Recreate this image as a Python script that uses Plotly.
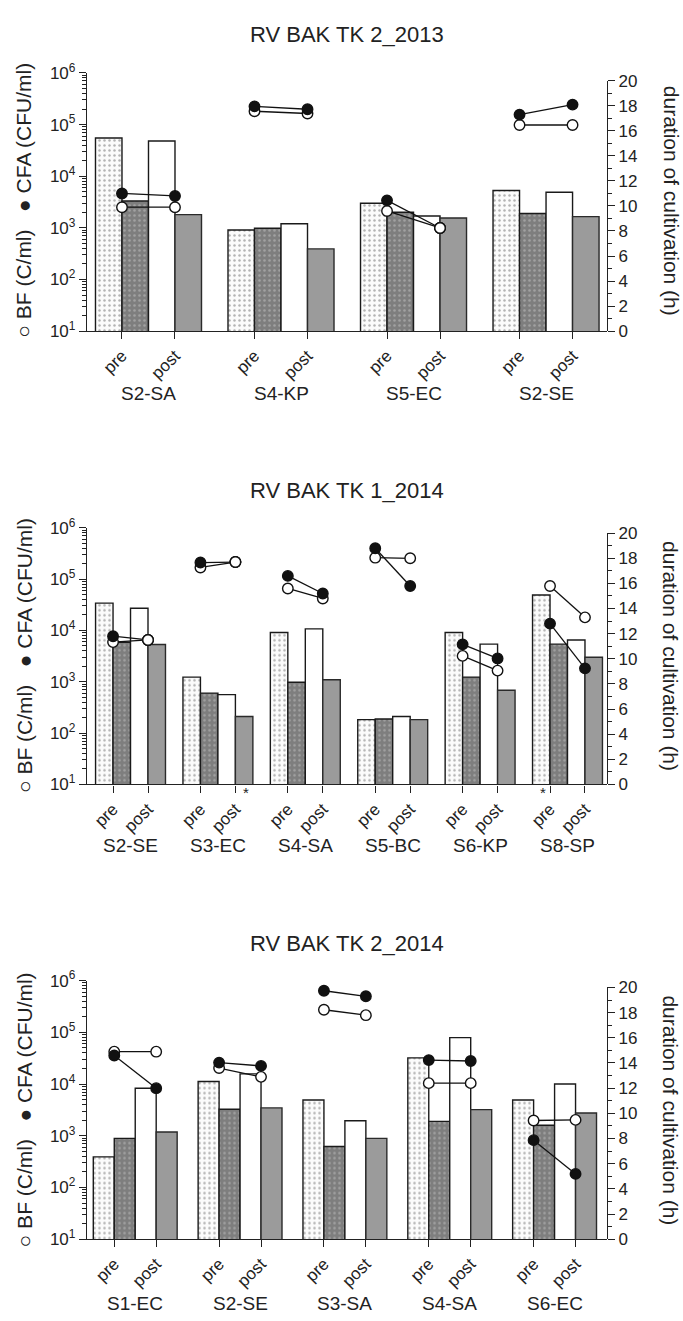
import plotly.graph_objects as go

# ---------------- data ----------------
titles = ["RV BAK TK 2_2013", "RV BAK TK 1_2014", "RV BAK TK 2_2014"]

groups_1 = ["S2-SA", "S4-KP", "S5-EC", "S2-SE"]
pre_bf_1 = [55000, 910, 3000, 5300]
pre_cfa_1 = [3300, 980, 2000, 1900]
post_bf_1 = [48000, 1200, 1700, 4900]
post_cfa_1 = [1800, 390, 1550, 1650]
dur_bf_pre_1 = [9.9, 17.57, 9.6, 16.47]
dur_bf_post_1 = [9.9, 17.39, 8.24, 16.47]
dur_cfa_pre_1 = [11.0, 17.96, 10.45, 17.3]
dur_cfa_post_1 = [10.8, 17.73, 8.24, 18.1]

groups_2 = ["S2-SE", "S3-EC", "S4-SA", "S5-BC", "S6-KP", "S8-SP"]
pre_bf_2 = [34000, 1230, 9100, 182, 9100, 49000]
pre_cfa_2 = [5900, 600, 980, 187, 1230, 5400]
post_bf_2 = [27000, 560, 10700, 210, 5400, 6500]
post_cfa_2 = [5300, 210, 1090, 182, 680, 3000]
dur_bf_pre_2 = [11.33, 17.27, 15.6, 18.05, 10.23, 15.8]
dur_bf_post_2 = [11.5, 17.7, 14.8, 18.0, 9.06, 13.3]
dur_cfa_pre_2 = [11.8, 17.66, 16.6, 18.8, 11.15, 12.8]
dur_cfa_post_2 = [11.5, 17.7, 15.2, 15.8, 10.03, 9.24]
asterisks_2 = [(1, "post"), (5, "pre")]

groups_3 = ["S1-EC", "S2-SE", "S3-SA", "S4-SA", "S6-EC"]
pre_bf_3 = [390, 11200, 4900, 32000, 4900]
pre_cfa_3 = [890, 3260, 620, 1900, 1600]
post_bf_3 = [8300, 15700, 1950, 79000, 10000]
post_cfa_3 = [1180, 3460, 890, 3200, 2750]
dur_bf_pre_3 = [14.9, 13.6, 18.23, 12.4, 9.43]
dur_bf_post_3 = [14.9, 12.9, 17.8, 12.4, 9.48]
dur_cfa_pre_3 = [14.6, 14.03, 19.74, 14.23, 7.87]
dur_cfa_post_3 = [12.0, 13.77, 19.3, 14.16, 5.19]

tick_labels = ["pre", "post"]
left_title = "○ BF (C/ml)   ● CFA (CFU/ml)"
right_title = "duration of cultivation (h)"
log_tickvals = [10, 100, 1000, 10000, 100000, 1000000]
log_ticktext = ["10<sup>1</sup>", "10<sup>2</sup>", "10<sup>3</sup>",
                "10<sup>4</sup>", "10<sup>5</sup>", "10<sup>6</sup>"]
dur_tickvals = list(range(0, 21, 2))

panels = [
    dict(groups=groups_1, bars=[pre_bf_1, pre_cfa_1, post_bf_1, post_cfa_1],
         bf=(dur_bf_pre_1, dur_bf_post_1), cfa=(dur_cfa_pre_1, dur_cfa_post_1), ast=[]),
    dict(groups=groups_2, bars=[pre_bf_2, pre_cfa_2, post_bf_2, post_cfa_2],
         bf=(dur_bf_pre_2, dur_bf_post_2), cfa=(dur_cfa_pre_2, dur_cfa_post_2), ast=asterisks_2),
    dict(groups=groups_3, bars=[pre_bf_3, pre_cfa_3, post_bf_3, post_cfa_3],
         bf=(dur_bf_pre_3, dur_bf_post_3), cfa=(dur_cfa_pre_3, dur_cfa_post_3), ast=[]),
]

# ---------------- layout geometry (pixels) ----------------
W, H = 683, 1321
FONT = "Liberation Sans, Arial, sans-serif"
PL, PR = 87, 607
geom = [
    dict(ytop=62, ybot=324.5, y2top=70, xr=[-0.82, 18.8], title_y=23, group_y=388, lab_y=192, ast_y=333),
    dict(ytop=524.5, ybot=785.5, y2top=530, xr=[-0.99, 28.76], title_y=487, group_y=848, lab_y=655, ast_y=794),
    dict(ytop=985, ybot=1248, y2top=992, xr=[-0.8, 24.0], title_y=947, group_y=1313, lab_y=1117, ast_y=1256),
]
BAR_BASE = 1  # below the visible axis minimum (10^1), clipped at the axis


def py(px):
    return 1 - px / H


def pxx(px):
    return px / W


bar_styles = [
    dict(color="#fbfbfb", line=dict(color="#1a1a1a", width=1.4),
         pattern=dict(shape=".", fgcolor="#6a6a6a", bgcolor="#fbfbfb", size=5, solidity=0.2)),
    dict(color="#828282", line=dict(color="#1a1a1a", width=1.4),
         pattern=dict(shape=".", fgcolor="#c4c4c4", bgcolor="#7e7e7e", size=5, solidity=0.2)),
    dict(color="#ffffff", line=dict(color="#1a1a1a", width=1.4)),
    dict(color="#9b9b9b", line=dict(color="#2a2a2a", width=1.4)),
]

fig = go.Figure()
layout = dict(width=W, height=H, margin=dict(l=0, r=0, t=0, b=0),
              plot_bgcolor="rgba(0,0,0,0)", paper_bgcolor="white", barmode="overlay",
              showlegend=False, font=dict(family=FONT, color="#222"))
annotations = []


def ann(**kw):
    base = dict(showarrow=False, xanchor="center", yanchor="middle")
    base.update(kw)
    annotations.append(base)


for i, (p, g) in enumerate(zip(panels, geom)):
    n = len(p["groups"])
    xa, xb = 2 * i + 1, 2 * i + 2
    xref_a = "x" if xa == 1 else f"x{xa}"
    yref_a = "y" if xa == 1 else f"y{xa}"
    xref_b, yref_b = f"x{xb}", f"y{xb}"

    for k in range(4):
        fig.add_trace(go.Bar(
            x=[gi * 5 + k for gi in range(n)], y=p["bars"][k], base=BAR_BASE, width=1.0,
            marker=bar_styles[k], xaxis=xref_a, yaxis=yref_a, hoverinfo="skip"))

    def seg(pre, post):
        xs, ys = [], []
        for gi in range(n):
            xs += [gi * 5 + 0.5, gi * 5 + 2.5, None]
            ys += [pre[gi], post[gi], None]
        return xs, ys

    bx, by = seg(*p["bf"])
    cx, cy = seg(*p["cfa"])
    fig.add_trace(go.Scatter(x=bx, y=by, mode="lines+markers", xaxis=xref_b, yaxis=yref_b,
                             line=dict(color="#111", width=1.3), cliponaxis=False,
                             marker=dict(symbol="circle", size=10.5, color="white",
                                         line=dict(color="#111", width=1.4))))
    fig.add_trace(go.Scatter(x=cx, y=cy, mode="lines+markers", xaxis=xref_b, yaxis=yref_b,
                             line=dict(color="#111", width=1.3), cliponaxis=False,
                             marker=dict(symbol="circle", size=10.5, color="#111",
                                         line=dict(color="#111", width=1.4))))
    same = [gi for gi in range(n) if abs(p["bf"][1][gi] - p["cfa"][1][gi]) < 0.15]
    if same:
        fig.add_trace(go.Scatter(x=[gi * 5 + 2.5 for gi in same], y=[p["bf"][1][gi] for gi in same],
                                 mode="markers", xaxis=xref_b, yaxis=yref_b, cliponaxis=False,
                                 marker=dict(symbol="circle", size=10.5, color="white",
                                             line=dict(color="#111", width=1.4))))

    tickvals, ticktext = [], []
    for gi in range(n):
        tickvals += [gi * 5 + 0.5, gi * 5 + 2.5]
        ticktext += tick_labels

    dom_x = [pxx(PL), pxx(PR)]
    ax_common = dict(showgrid=False, zeroline=False, showline=True, linecolor="#222",
                     linewidth=1.3, ticks="outside", tickcolor="#222", tickwidth=1.2)
    layout["xaxis" if xa == 1 else f"xaxis{xa}"] = dict(
        domain=dom_x, range=g["xr"], anchor=yref_a, tickmode="array",
        tickvals=tickvals, ticktext=ticktext, tickangle=-45, ticklen=7,
        tickfont=dict(size=17, family=FONT, color="#222"), **ax_common)
    layout["yaxis" if xa == 1 else f"yaxis{xa}"] = dict(
        domain=[py(g["ybot"]), py(g["ytop"])], type="log", range=[1, 6], anchor=xref_a,
        tickmode="array", tickvals=log_tickvals, ticktext=log_ticktext, ticklen=7,
        tickfont=dict(size=17, family=FONT, color="#222"),
        minor=dict(tickmode="array",
                   tickvals=[m * 10 ** e for e in range(1, 6) for m in range(2, 10)],
                   ticks="outside", ticklen=4, tickcolor="#222", tickwidth=1),
        **ax_common)
    layout[f"xaxis{xb}"] = dict(domain=dom_x, range=g["xr"], anchor=yref_b, visible=False)
    layout[f"yaxis{xb}"] = dict(
        domain=[py(g["ybot"]), py(g["y2top"])], range=[0, 20], anchor=xref_b, side="right",
        tickmode="array", tickvals=dur_tickvals, ticklen=7,
        tickfont=dict(size=17, family=FONT, color="#222"),
        minor=dict(tickmode="array", tickvals=list(range(1, 20, 2)),
                   ticks="outside", ticklen=4, tickcolor="#222", tickwidth=1),
        **ax_common)

    ann(text=titles[i], x=pxx((PL + PR) / 2), y=py(g["title_y"]), xref="paper", yref="paper",
        font=dict(size=22, family=FONT, color="#222"))
    for gi, name in enumerate(p["groups"]):
        ann(text=name, x=gi * 5 + 1.5, y=py(g["group_y"]), xref=xref_a, yref="paper",
            font=dict(size=19, family=FONT, color="#222"))
    ann(text=left_title, x=pxx(24), y=py(g["lab_y"]), xref="paper", yref="paper",
        textangle=-90, font=dict(size=21, family=FONT, color="#222"))
    ann(text=right_title, x=pxx(671), y=py(g["lab_y"]), xref="paper", yref="paper",
        textangle=90, font=dict(size=21, family=FONT, color="#222"))
    for gi, which in p["ast"]:
        xpos = gi * 5 + (0.5 if which == "pre" else 2.5)
        ann(text="*", x=xpos, y=py(g["ast_y"]), xref=xref_a, yref="paper",
            xshift=(-7 if which == "pre" else 11), font=dict(size=15, family=FONT, color="#222"))

layout["annotations"] = annotations
fig.update_layout(**layout)

fig.write_html("out.html", config={"displayModeBar": False},
               post_script="document.body.style.margin='0';")
